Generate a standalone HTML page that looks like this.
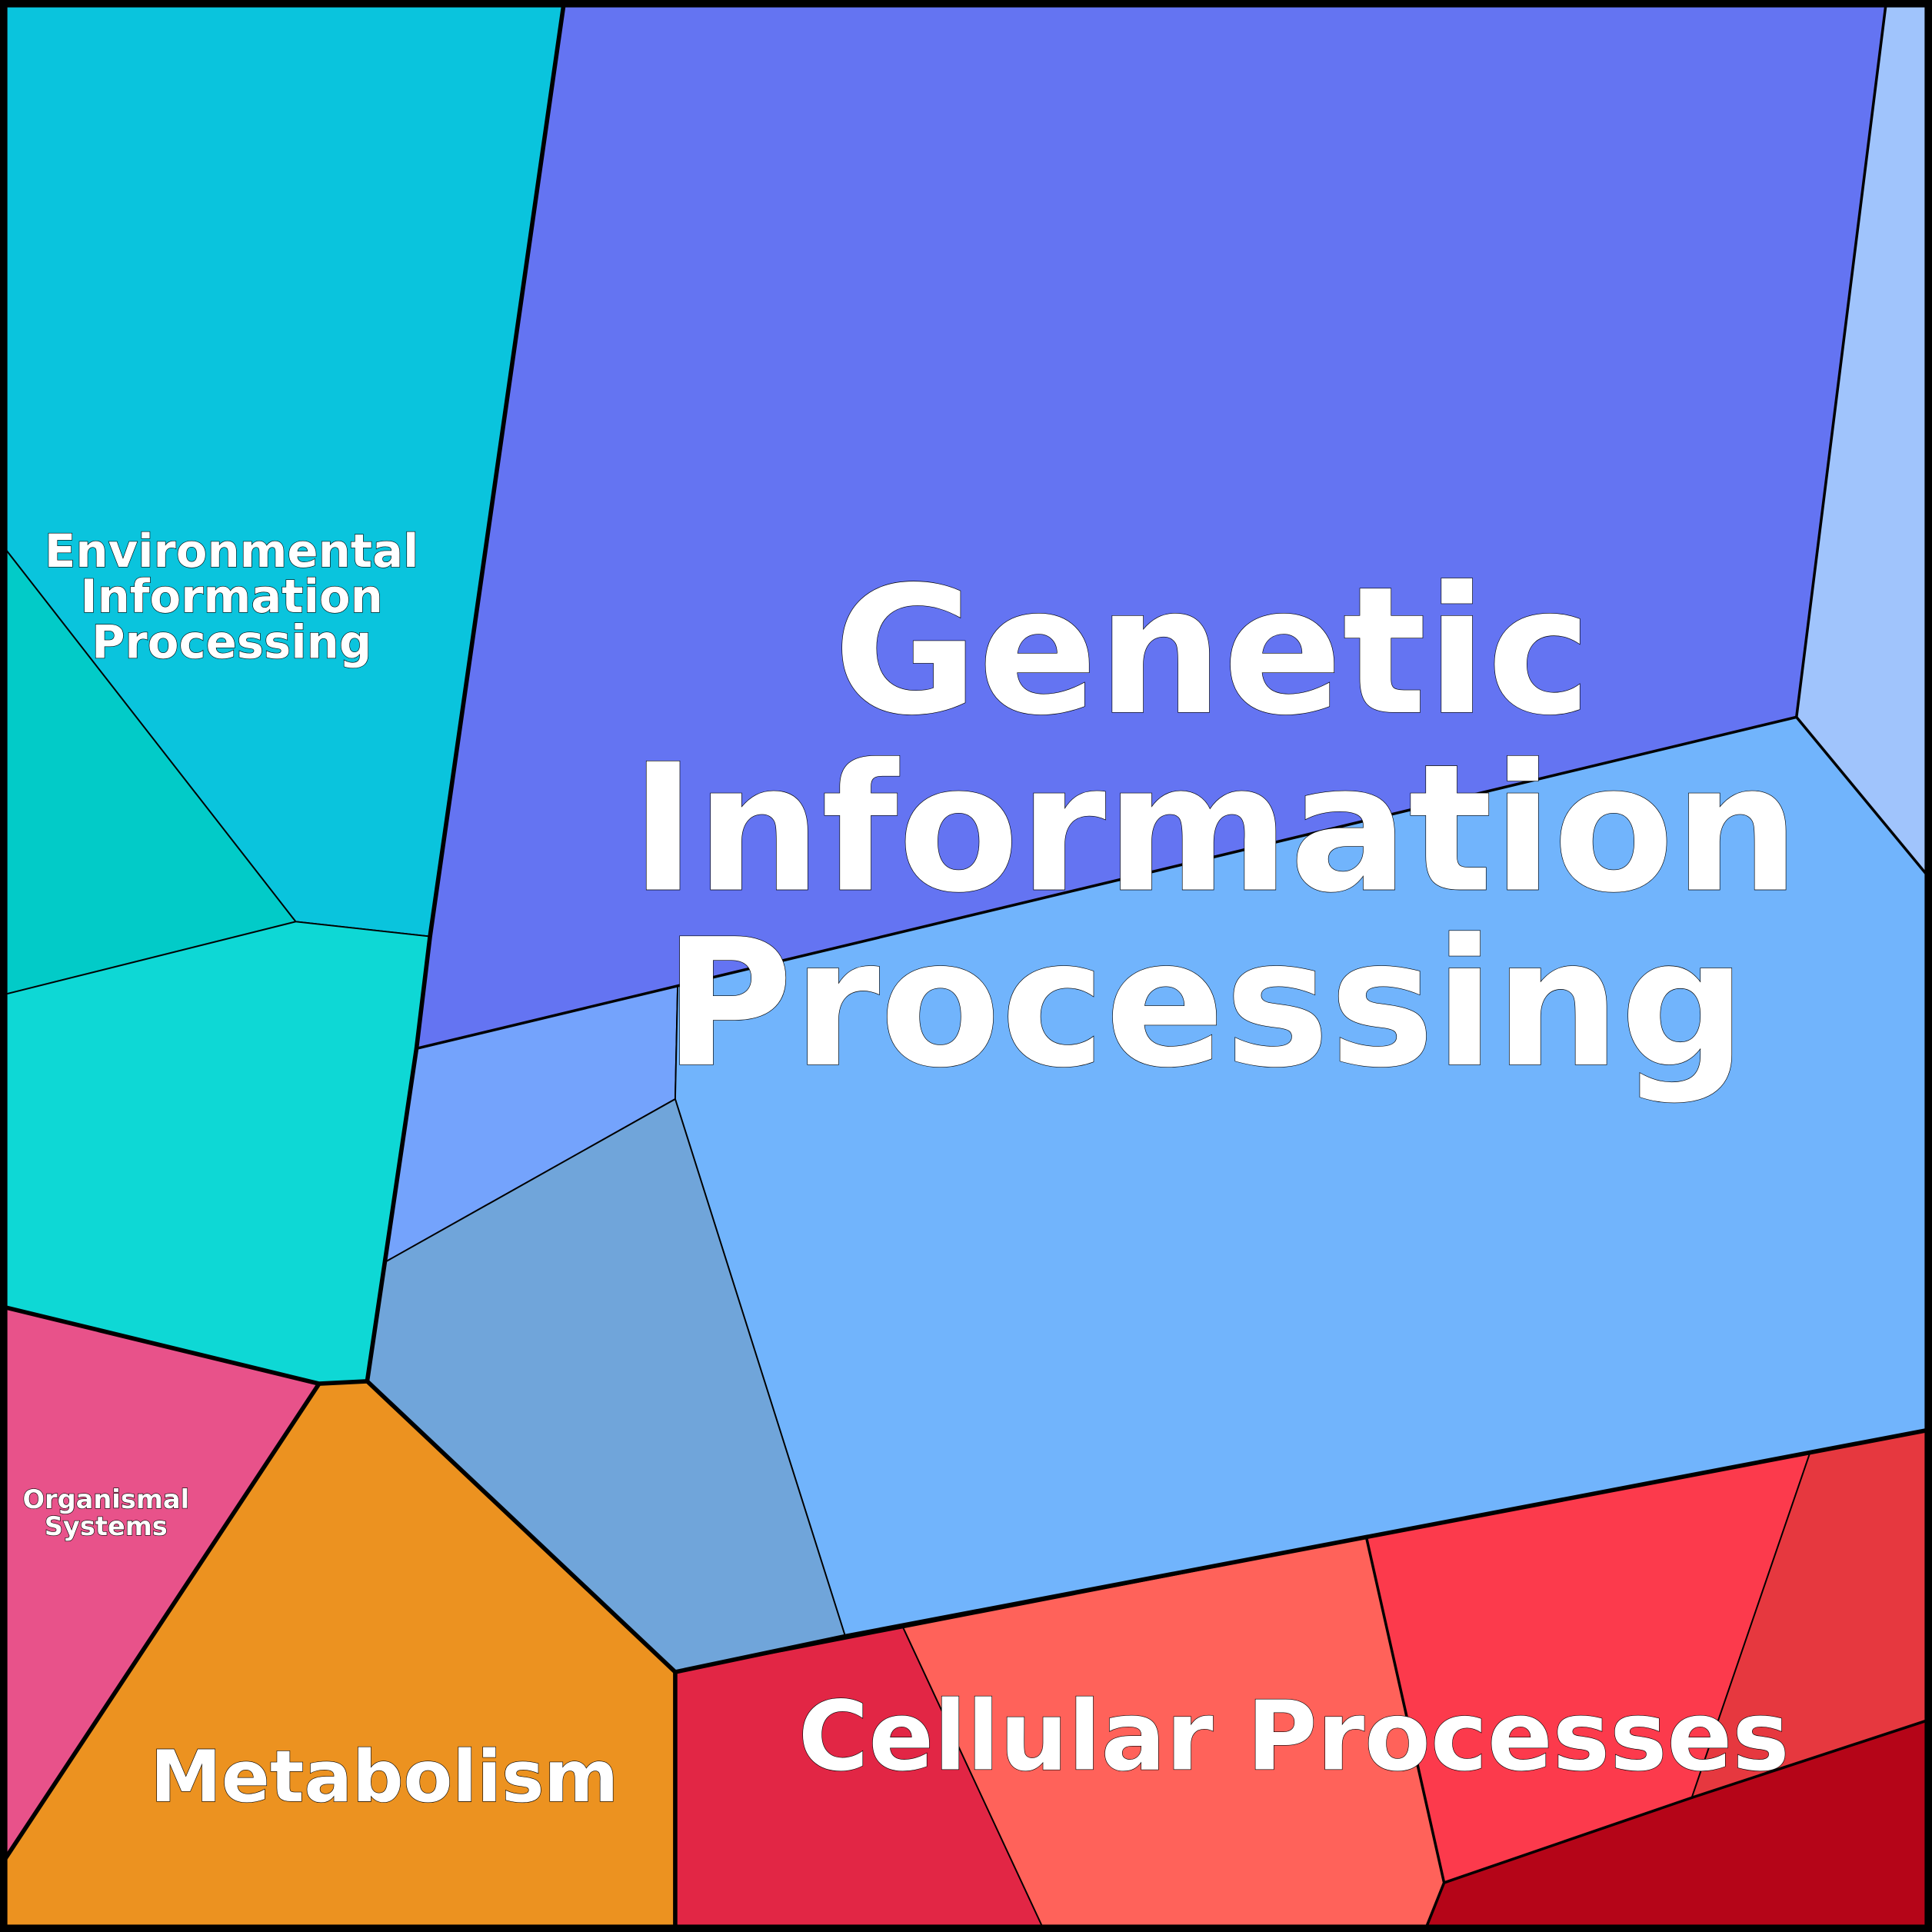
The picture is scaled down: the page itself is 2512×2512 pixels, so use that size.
<!DOCTYPE html>
<html><head><meta charset="utf-8"><style>
html,body{margin:0;padding:0;background:#fff}
svg{display:block}
text{font-family:"DejaVu Sans","Liberation Sans",sans-serif;font-weight:bold;fill:#fff;stroke:#000;stroke-width:0.8;text-anchor:middle;paint-order:stroke}
</style></head><body>
<svg width="2512" height="2512" viewBox="0 0 1568 1568" xmlns="http://www.w3.org/2000/svg">
<g stroke="#000" stroke-width="1.2" stroke-linejoin="round">
<polygon fill="#0AC4DD" points="0,0 458,0 349,760 240,748 0,440"/>
<polygon fill="#02CBC8" points="0,440 240,748 0,808"/>
<polygon fill="#0ED8D5" points="0,808 240,748 349,760 338,851 313,1024 298,1121 259,1123 0,1060"/>
<polygon fill="#6474F2" points="458,0 1531,0 1458,582 338,851 349,760"/>
<polygon fill="#A0C4FC" points="1531,0 1568,0 1568,715 1458,582"/>
<polygon fill="#74A3FC" points="338,851 550,800 548,892 313,1024"/>
<polygon fill="#71B4FC" points="550,800 1458,582 1568,715 1568,1160 686,1328 548,892"/>
<polygon fill="#70A5DA" points="313,1024 548,892 686,1328 548,1357 298,1121"/>
<polygon fill="#E8528A" points="0,1060 259,1123 0,1515"/>
<polygon fill="#EC9220" points="259,1123 298,1121 548,1357 548,1568 0,1568 0,1515"/>
<polygon fill="#E22645" points="548,1357 733,1321 848,1568 548,1568"/>
<polygon fill="#FF625A" points="733,1321 1109,1248 1172,1528 1156,1568 848,1568"/>
<polygon fill="#FC3A4C" points="1109,1248 1469,1179 1373,1459 1172,1528"/>
<polygon fill="#E6383F" points="1469,1179 1568,1160 1568,1395 1373,1459"/>
<polygon fill="#B50518" points="1172,1528 1373,1459 1568,1395 1568,1568 1156,1568"/>
</g>
<g stroke="#000" stroke-width="2.2" fill="none" stroke-linejoin="round">
<polyline points="338,851 1458,582 1531,0"/>
<polyline points="1458,582 1568,715"/>
<polyline points="1109,1248 1172,1528 1156,1568"/>
<polyline points="1172,1528 1373,1459 1568,1395"/>
</g>
<g stroke="#000" stroke-width="3.5" fill="none" stroke-linejoin="round">
<polyline points="458,0 349,760 338,851 298,1121"/>
<polyline points="0,1060 259,1123 298,1121 548,1357 686,1328 1568,1160"/>
<polyline points="259,1123 0,1515"/>
<polyline points="548,1357 548,1568"/>
</g>
<rect x="3" y="3" width="1562" height="1562" fill="none" stroke="#000" stroke-width="6"/>
<text font-size="143" x="984" y="578">Genetic</text>
<text font-size="143" x="986" y="722">Information</text>
<text font-size="143" x="978" y="864">Processing</text>
<text font-size="78" x="1050" y="1436">Cellular Processes</text>
<text font-size="58" x="312" y="1462">Metabolism</text>
<text font-size="37" x="188" y="460">Environmental</text>
<text font-size="37" x="188" y="497">Information</text>
<text font-size="37" x="188" y="534">Processing</text>
<text font-size="21" x="86" y="1224" stroke-width="0.5">Organismal</text>
<text font-size="21" x="86" y="1246" stroke-width="0.5">Systems</text>
</svg>
</body></html>
